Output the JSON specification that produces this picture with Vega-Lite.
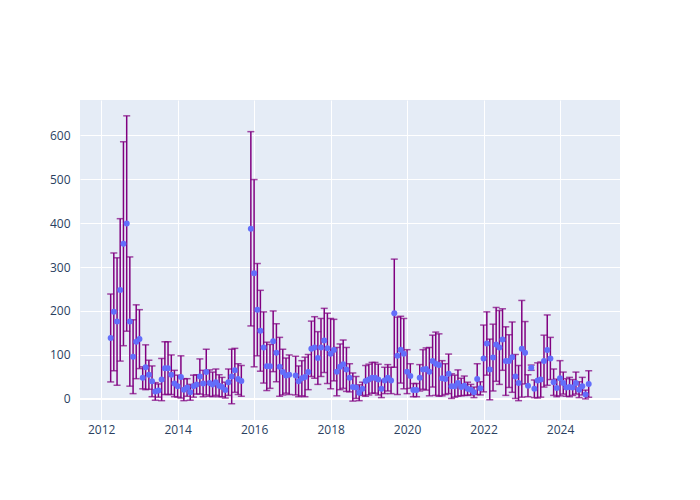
{
  "$schema": "https://vega.github.io/schema/vega-lite/v6.json",
  "autosize": {"type": "none"},
  "padding": {"left": 80, "top": 100, "right": 80, "bottom": 80},
  "width": 540,
  "height": 320,
  "background": "white",
  "config": {
    "view": {"fill": "#E5ECF6", "stroke": null},
    "font": "Open Sans",
    "axis": {
      "domain": false, "ticks": false, "tickSize": 0,
      "gridColor": "white", "gridWidth": 1,
      "labelFont": "Open Sans", "labelFontSize": 12, "labelColor": "#2a3f5f",
      "title": null
    }
  },
  "data": {"values": [
    {"date": "2012-04-01", "value": 138.6, "err": 100},
    {"date": "2012-05-01", "value": 198, "err": 134},
    {"date": "2012-06-01", "value": 176, "err": 145},
    {"date": "2012-07-01", "value": 248, "err": 162},
    {"date": "2012-08-01", "value": 353, "err": 232},
    {"date": "2012-09-01", "value": 399, "err": 245},
    {"date": "2012-10-01", "value": 176, "err": 147},
    {"date": "2012-11-01", "value": 96, "err": 84},
    {"date": "2012-12-01", "value": 130, "err": 84},
    {"date": "2013-01-01", "value": 136, "err": 67},
    {"date": "2013-02-01", "value": 48, "err": 25},
    {"date": "2013-03-01", "value": 72, "err": 51},
    {"date": "2013-04-01", "value": 55, "err": 33},
    {"date": "2013-05-01", "value": 40, "err": 35},
    {"date": "2013-06-01", "value": 17, "err": 20},
    {"date": "2013-07-01", "value": 19, "err": 15},
    {"date": "2013-08-01", "value": 44, "err": 48},
    {"date": "2013-09-01", "value": 70, "err": 60},
    {"date": "2013-10-01", "value": 70, "err": 60},
    {"date": "2013-11-01", "value": 55, "err": 45},
    {"date": "2013-12-01", "value": 35, "err": 30},
    {"date": "2014-01-01", "value": 29, "err": 25},
    {"date": "2014-02-01", "value": 50, "err": 48},
    {"date": "2014-03-01", "value": 21, "err": 25},
    {"date": "2014-04-01", "value": 26, "err": 20},
    {"date": "2014-05-01", "value": 15, "err": 18},
    {"date": "2014-06-01", "value": 29, "err": 25},
    {"date": "2014-07-01", "value": 33, "err": 22},
    {"date": "2014-08-01", "value": 51, "err": 40},
    {"date": "2014-09-01", "value": 35, "err": 30},
    {"date": "2014-10-01", "value": 61, "err": 52},
    {"date": "2014-11-01", "value": 36, "err": 30},
    {"date": "2014-12-01", "value": 33, "err": 28},
    {"date": "2015-01-01", "value": 38, "err": 30},
    {"date": "2015-02-01", "value": 30, "err": 25},
    {"date": "2015-03-01", "value": 27, "err": 22},
    {"date": "2015-04-01", "value": 20, "err": 18},
    {"date": "2015-05-01", "value": 38, "err": 30},
    {"date": "2015-06-01", "value": 51, "err": 62},
    {"date": "2015-07-01", "value": 65, "err": 50},
    {"date": "2015-08-01", "value": 45, "err": 35},
    {"date": "2015-09-01", "value": 41, "err": 35},
    {"date": "2015-12-01", "value": 387, "err": 221},
    {"date": "2016-01-01", "value": 286, "err": 213},
    {"date": "2016-02-01", "value": 203, "err": 105},
    {"date": "2016-03-01", "value": 155, "err": 92},
    {"date": "2016-04-01", "value": 117, "err": 81},
    {"date": "2016-05-01", "value": 74, "err": 55},
    {"date": "2016-06-01", "value": 74, "err": 50},
    {"date": "2016-07-01", "value": 131, "err": 69},
    {"date": "2016-08-01", "value": 105, "err": 66},
    {"date": "2016-09-01", "value": 73, "err": 67},
    {"date": "2016-10-01", "value": 61, "err": 52},
    {"date": "2016-11-01", "value": 53, "err": 40},
    {"date": "2016-12-01", "value": 55, "err": 45},
    {"date": "2017-02-01", "value": 53, "err": 44},
    {"date": "2017-03-01", "value": 40, "err": 35},
    {"date": "2017-04-01", "value": 47, "err": 40},
    {"date": "2017-05-01", "value": 50, "err": 45},
    {"date": "2017-06-01", "value": 61, "err": 40},
    {"date": "2017-07-01", "value": 114, "err": 63},
    {"date": "2017-08-01", "value": 117, "err": 70},
    {"date": "2017-09-01", "value": 93, "err": 60},
    {"date": "2017-10-01", "value": 117, "err": 66},
    {"date": "2017-11-01", "value": 133, "err": 73},
    {"date": "2017-12-01", "value": 115, "err": 80},
    {"date": "2018-01-01", "value": 103, "err": 80},
    {"date": "2018-02-01", "value": 111, "err": 70},
    {"date": "2018-03-01", "value": 62, "err": 55},
    {"date": "2018-04-01", "value": 73, "err": 52},
    {"date": "2018-05-01", "value": 79, "err": 55},
    {"date": "2018-06-01", "value": 67, "err": 50},
    {"date": "2018-07-01", "value": 48, "err": 32},
    {"date": "2018-08-01", "value": 27, "err": 32},
    {"date": "2018-09-01", "value": 26, "err": 25},
    {"date": "2018-10-01", "value": 14, "err": 18},
    {"date": "2018-11-01", "value": 23, "err": 15},
    {"date": "2018-12-01", "value": 41, "err": 35},
    {"date": "2019-01-01", "value": 44, "err": 35},
    {"date": "2019-02-01", "value": 48, "err": 35},
    {"date": "2019-03-01", "value": 48, "err": 35},
    {"date": "2019-04-01", "value": 44, "err": 35},
    {"date": "2019-05-01", "value": 23, "err": 20},
    {"date": "2019-06-01", "value": 42, "err": 30},
    {"date": "2019-07-01", "value": 48, "err": 30},
    {"date": "2019-08-01", "value": 42, "err": 30},
    {"date": "2019-09-01", "value": 195, "err": 123},
    {"date": "2019-10-01", "value": 98, "err": 88},
    {"date": "2019-11-01", "value": 112, "err": 76},
    {"date": "2019-12-01", "value": 103, "err": 80},
    {"date": "2020-01-01", "value": 62, "err": 50},
    {"date": "2020-02-01", "value": 52, "err": 28},
    {"date": "2020-03-01", "value": 20, "err": 15},
    {"date": "2020-04-01", "value": 20, "err": 15},
    {"date": "2020-05-01", "value": 48, "err": 30},
    {"date": "2020-06-01", "value": 67, "err": 45},
    {"date": "2020-07-01", "value": 68, "err": 48},
    {"date": "2020-08-01", "value": 62, "err": 55},
    {"date": "2020-09-01", "value": 86, "err": 59},
    {"date": "2020-10-01", "value": 80, "err": 72},
    {"date": "2020-11-01", "value": 77, "err": 71},
    {"date": "2020-12-01", "value": 47, "err": 40},
    {"date": "2021-01-01", "value": 45, "err": 35},
    {"date": "2021-02-01", "value": 57, "err": 45},
    {"date": "2021-03-01", "value": 29, "err": 28},
    {"date": "2021-04-01", "value": 29, "err": 25},
    {"date": "2021-05-01", "value": 36, "err": 30},
    {"date": "2021-06-01", "value": 27, "err": 20},
    {"date": "2021-07-01", "value": 30, "err": 22},
    {"date": "2021-08-01", "value": 23, "err": 15},
    {"date": "2021-09-01", "value": 21, "err": 12},
    {"date": "2021-10-01", "value": 15, "err": 12},
    {"date": "2021-11-01", "value": 45, "err": 35},
    {"date": "2021-12-01", "value": 24, "err": 15},
    {"date": "2022-01-01", "value": 92, "err": 76},
    {"date": "2022-02-01", "value": 126, "err": 72},
    {"date": "2022-03-01", "value": 67, "err": 69},
    {"date": "2022-04-01", "value": 94, "err": 76},
    {"date": "2022-05-01", "value": 124, "err": 84},
    {"date": "2022-06-01", "value": 117, "err": 84},
    {"date": "2022-07-01", "value": 135, "err": 70},
    {"date": "2022-08-01", "value": 86, "err": 78},
    {"date": "2022-09-01", "value": 86, "err": 60},
    {"date": "2022-10-01", "value": 95, "err": 80},
    {"date": "2022-11-01", "value": 51, "err": 50},
    {"date": "2022-12-01", "value": 36, "err": 40},
    {"date": "2023-01-01", "value": 114, "err": 110},
    {"date": "2023-02-01", "value": 105, "err": 71},
    {"date": "2023-03-01", "value": 30, "err": 25},
    {"date": "2023-04-01", "value": 71, "err": 6},
    {"date": "2023-05-01", "value": 23, "err": 20},
    {"date": "2023-06-01", "value": 42, "err": 40},
    {"date": "2023-07-01", "value": 44, "err": 40},
    {"date": "2023-08-01", "value": 86, "err": 59},
    {"date": "2023-09-01", "value": 111, "err": 80},
    {"date": "2023-10-01", "value": 92, "err": 48},
    {"date": "2023-11-01", "value": 38, "err": 30},
    {"date": "2023-12-01", "value": 25, "err": 20},
    {"date": "2024-01-01", "value": 47, "err": 40},
    {"date": "2024-02-01", "value": 36, "err": 25},
    {"date": "2024-03-01", "value": 26, "err": 20},
    {"date": "2024-04-01", "value": 27, "err": 22},
    {"date": "2024-05-01", "value": 26, "err": 18},
    {"date": "2024-06-01", "value": 36, "err": 25},
    {"date": "2024-07-01", "value": 21, "err": 18},
    {"date": "2024-08-01", "value": 29, "err": 20},
    {"date": "2024-09-01", "value": 10, "err": 10},
    {"date": "2024-10-01", "value": 34, "err": 30}
  ]},
  "layer": [
    {
      "mark": {"type": "rule", "color": "white", "strokeWidth": 2},
      "encoding": {"y": {"datum": 0, "type": "quantitative"}}
    },
    {
      "mark": {"type": "errorbar", "color": "purple", "rule": {"strokeWidth": 1.5}, "ticks": {"size": 7, "thickness": 1.5, "color": "purple"}},
      "encoding": {
        "x": {"field": "date", "type": "temporal", "title": null},
        "y": {"field": "value", "type": "quantitative", "title": null},
        "yError": {"field": "err"}
      }
    },
    {
      "mark": {"type": "circle", "color": "#636efa", "opacity": 1, "size": 36},
      "encoding": {
        "x": {"field": "date", "type": "temporal", "title": null,
          "scale": {"domain": ["2011-06-13", "2025-07-27"]},
          "axis": {"values": [{"year": 2012}, {"year": 2014}, {"year": 2016}, {"year": 2018}, {"year": 2020}, {"year": 2022}, {"year": 2024}], "format": "%Y", "labelPadding": 4, "grid": true}},
        "y": {"field": "value", "type": "quantitative", "title": null,
          "scale": {"domain": [-48, 680], "nice": false, "zero": false},
          "axis": {"values": [0, 100, 200, 300, 400, 500, 600], "labelPadding": 10, "grid": true}}
      }
    }
  ]
}
